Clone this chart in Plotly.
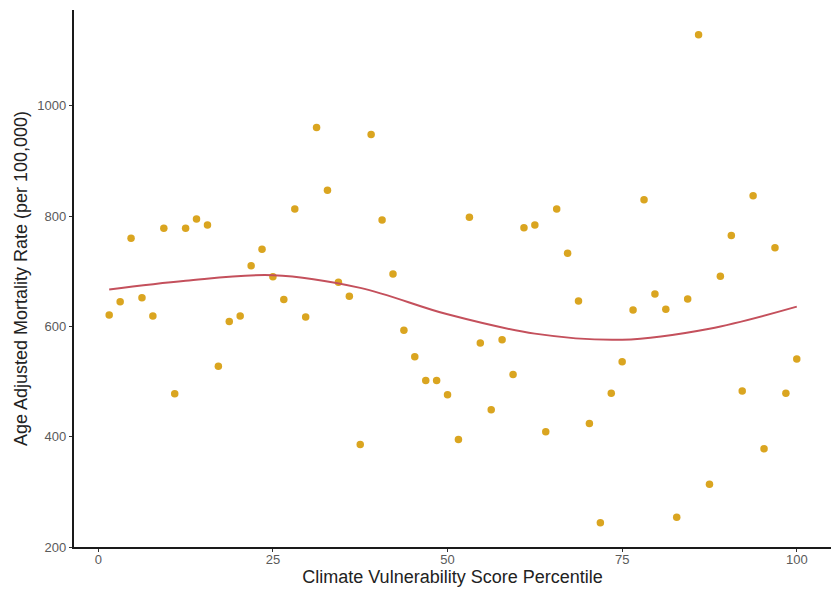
import plotly.graph_objects as go

# Percentile of climate vulnerability score (x) and mortality rate (y)
pct = [1.56, 3.13, 4.69, 6.25, 7.81, 9.38, 10.94, 12.5, 14.06, 15.63,
       17.19, 18.75, 20.31, 21.88, 23.44, 25.0, 26.56, 28.13, 29.69, 31.25,
       32.81, 34.38, 35.94, 37.5, 39.06, 40.63, 42.19, 43.75, 45.31, 46.88,
       48.44, 50.0, 51.56, 53.13, 54.69, 56.25, 57.81, 59.38, 60.94, 62.5,
       64.06, 65.63, 67.19, 68.75, 70.31, 71.88, 73.44, 75.0, 76.56, 78.13,
       79.69, 81.25, 82.81, 84.38, 85.94, 87.5, 89.06, 90.63, 92.19, 93.75,
       95.31, 96.88, 98.44, 100.0]
mortality = [621, 645, 760, 652, 619, 778, 478, 778, 795, 784,
             528, 609, 619, 710, 740, 690, 649, 813, 617, 961,
             847, 680, 655, 386, 948, 793, 695, 593, 545, 502,
             502, 476, 395, 798, 570, 449, 576, 513, 779, 784,
             409, 813, 733, 646, 424, 244, 479, 536, 630, 830,
             659, 631, 254, 650, 1129, 314, 691, 765, 483, 837,
             378, 743, 479, 541]

# Smoothed trend
trend_x = [1.56, 12.5, 25.0, 37.5, 50.0, 62.5, 75.0, 87.5, 100.0]
trend_y = [667, 683, 693, 670, 622, 587, 576, 596, 636]

x_ticks = [0, 25, 50, 75, 100]
y_ticks = [200, 400, 600, 800, 1000]

FONT = "Liberation Sans, Arial, sans-serif"

fig = go.Figure()
fig.add_trace(go.Scatter(
    x=pct, y=mortality, mode="markers",
    marker=dict(color="#DAA520", size=7.5, line=dict(width=0)),
    showlegend=False, hoverinfo="x+y"))
fig.add_trace(go.Scatter(
    x=trend_x, y=trend_y, mode="lines",
    line=dict(color="#C4505C", width=2, shape="spline", smoothing=1.0),
    showlegend=False, hoverinfo="skip"))

axis_common = dict(
    showgrid=False, zeroline=False, showline=True, linecolor="#1a1a1a",
    linewidth=1.5, ticks="outside", ticklen=3.5, tickwidth=1.2,
    tickcolor="#333333",
    tickfont=dict(family=FONT, size=13, color="#5a5a5a"),
)

fig.update_layout(
    width=835, height=595,
    margin=dict(l=74, r=4, t=10, b=48),
    plot_bgcolor="white", paper_bgcolor="white",
    xaxis=dict(range=[-3.48, 104.9], tickvals=x_ticks, ticklabelstandoff=-4,
               title=dict(text="Climate Vulnerability Score Percentile", standoff=2,
                          font=dict(family=FONT, size=18, color="#222222")),
               **axis_common),
    yaxis=dict(range=[200, 1174], tickvals=y_ticks,
               title=dict(text="Age Adjusted Mortality Rate (per 100,000)", standoff=5,
                          font=dict(family=FONT, size=18, color="#222222")),
               **axis_common),
)

fig.write_html("out.html")
